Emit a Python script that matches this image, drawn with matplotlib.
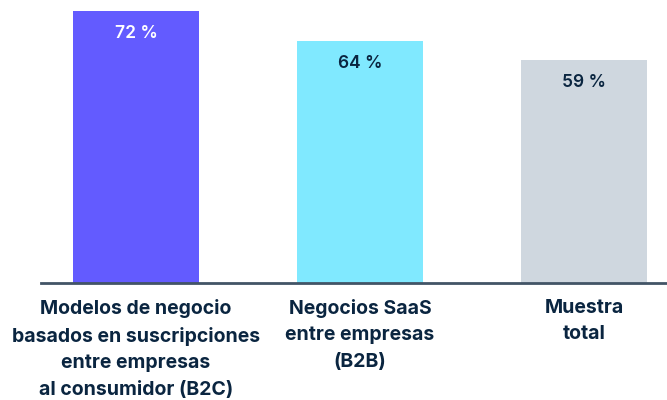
"""Bar chart of share by business model, with value labels inside the bars"""

import matplotlib.pyplot as plt

categories = [
    "Modelos de negocio\nbasados en suscripciones\nentre empresas\nal consumidor (B2C)",
    "Negocios SaaS\nentre empresas\n(B2B)",
    "Muestra\ntotal",
]
values = [72, 64, 59]
value_labels = ["72 %", "64 %", "59 %"]
bar_colors = ["#635BFF", "#80E9FF", "#CFD7DF"]
label_colors = ["white", "#0A2540", "#0A2540"]

NAVY = "#0A2540"

plt.rcParams["font.family"] = ["Inter", "DejaVu Sans"]


def plotter():
    """Draw the bars and labels"""
    fig = plt.figure(figsize=(6.67, 4.0), dpi=100)
    ax = fig.add_axes([41 / 667, 117 / 400, 626 / 667, 272 / 400])

    x = range(len(values))
    bars = ax.bar(x, values, width=0.5625, color=bar_colors, zorder=2)

    ax.set_ylim(0, 72)
    ax.set_xlim(-0.424, 2.37)

    for bar, text, color in zip(bars, value_labels, label_colors):
        ax.annotate(text, (bar.get_x() + bar.get_width() / 2, bar.get_height()),
                    xytext=(0, -16), textcoords="offset points",
                    ha="center", va="center", fontsize=12.5,
                    fontweight="semibold", color=color)

    for i, name in zip(x, categories):
        ax.annotate(name, (i, 0), xytext=(0, -11.5), textcoords="offset points",
                    ha="center", va="top", fontsize=14, fontweight="bold",
                    color=NAVY, linespacing=1.6, annotation_clip=False)

    for side in ["top", "right", "left"]:
        ax.spines[side].set_visible(False)
    ax.spines["bottom"].set_color("#425466")
    ax.spines["bottom"].set_linewidth(2)
    ax.spines["bottom"].set_zorder(3)
    ax.set_xticks([])
    ax.set_yticks([])

    plt.savefig("out.png", dpi=100)


if __name__ == '__main__':
    plotter()
